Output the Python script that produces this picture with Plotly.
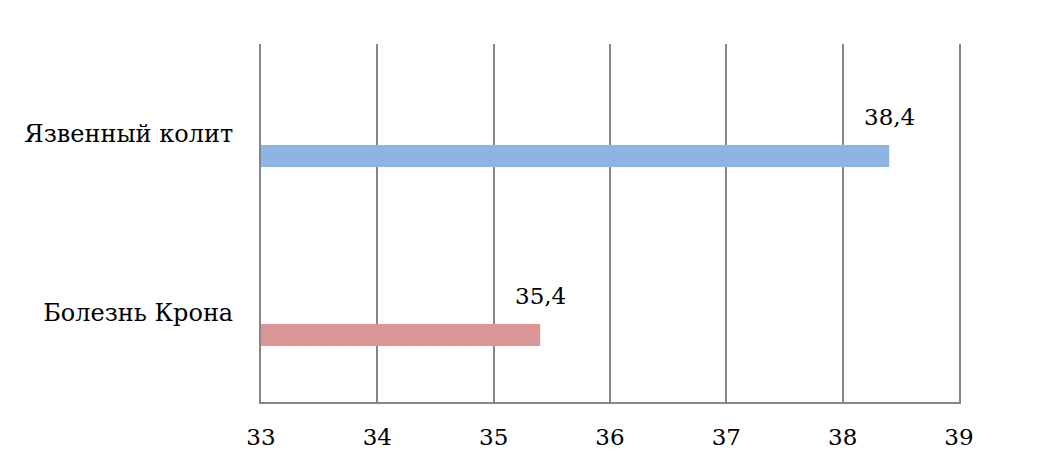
import plotly.graph_objects as go

categories = ["Болезнь Крона", "Язвенный колит"]
values = [35.4, 38.4]
colors = ["#D99694", "#8EB4E3"]
tick_vals = [33, 34, 35, 36, 37, 38, 39]
axis_min = 33

FONT = "DejaVu Serif"

fig = go.Figure()
fig.add_trace(go.Bar(
    y=categories, x=[v - axis_min for v in values], base=axis_min,
    orientation="h",
    marker=dict(color=colors, line=dict(width=0)),
    width=0.123, offset=-0.187,
    showlegend=False, hoverinfo="skip",
))

for c, v in zip(categories, values):
    fig.add_annotation(x=v, y=c, text=f"{v:.1f}".replace(".", ","),
                       showarrow=False, yshift=17,
                       font=dict(family=FONT, size=23, color="#000000"))

fig.update_layout(
    width=1053, height=470,
    margin=dict(l=253, r=102, t=36, b=76),
    plot_bgcolor="white", paper_bgcolor="white",
    font=dict(family=FONT, size=23, color="#000000"),
)
fig.update_xaxes(
    range=[33, 39], tickvals=tick_vals, ticktext=[str(t) for t in tick_vals],
    showgrid=True, gridcolor="#868686", gridwidth=2,
    showline=True, linecolor="#868686", linewidth=2,
    zeroline=False, ticks="", ticklabelstandoff=13,
    tickfont=dict(family=FONT, size=23, color="#000000"),
)
fig.update_yaxes(
    type="category", categoryorder="array", categoryarray=categories,
    range=[-0.5, 1.5], showgrid=False, zeroline=False,
    showline=True, linecolor="#868686", linewidth=2, mirror=True,
    ticks="", ticklabelstandoff=21,
    tickfont=dict(family=FONT, size=24, color="#000000"),
)
fig.write_html("out.html")
